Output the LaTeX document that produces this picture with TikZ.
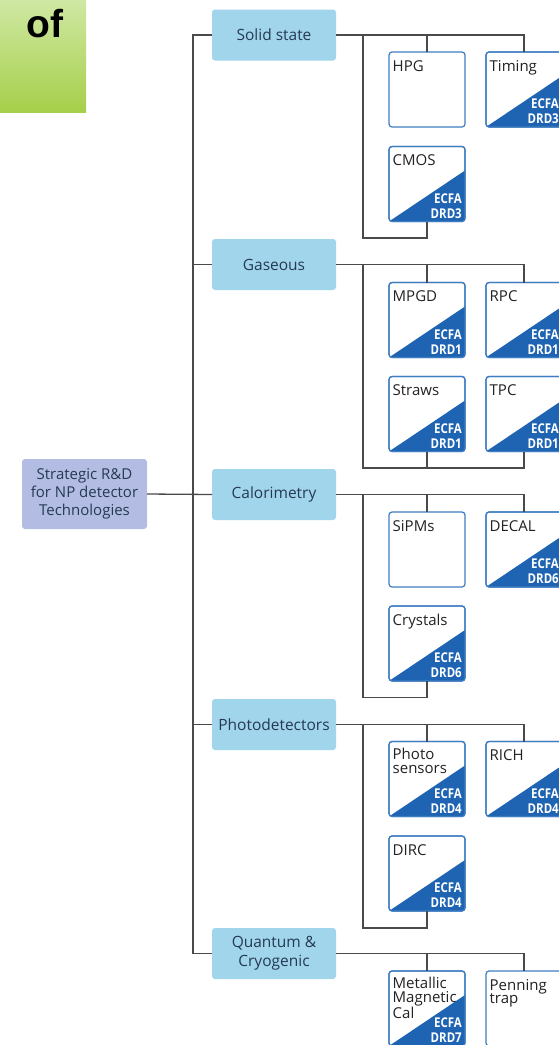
\documentclass[tikz,border=0pt]{standalone}
\usepackage{fontspec}
\setmainfont{Open Sans}
\newfontfamily\ofont{Liberation Sans}
\newfontfamily\ecfafont[FakeStretch=0.85]{Open Sans}
\usetikzlibrary{calc}
\definecolor{catfill}{HTML}{A0D5EB}
\definecolor{rootfill}{HTML}{B3BDE3}
\definecolor{cattext}{HTML}{253A52}
\definecolor{leafline}{HTML}{3F7DC2}
\definecolor{trifill}{HTML}{1E64B2}
\definecolor{conncol}{HTML}{4A4A4A}
\definecolor{gtop}{HTML}{CFE8A3}
\definecolor{gbot}{HTML}{A6CF4A}
\definecolor{leaftextcol}{HTML}{222222}
\tikzset{
  conn/.style={draw=conncol, line width=1.3pt},
  catbox/.style={rectangle, rounded corners=3pt, fill=catfill, minimum width=124pt, minimum height=51pt, inner sep=0pt, outer sep=0pt, text=cattext, font=\fontsize{15.5}{19}\selectfont, align=center},
  rootbox/.style={rectangle, rounded corners=3pt, fill=rootfill, minimum width=125pt, minimum height=70pt, inner sep=0pt, outer sep=0pt, text=cattext, font=\fontsize{15}{18}\selectfont, align=center},
  leafbox/.style={rectangle, rounded corners=3pt, fill=white, draw=leafline, line width=1.2pt, minimum width=76pt, minimum height=75pt, inner sep=0pt, outer sep=0pt},
  leaftext/.style={inner sep=0pt, text=leaftextcol, font=\fontsize{15}{13.5}\selectfont},
  ecfatext/.style={inner sep=0pt, text=white, font=\ecfafont\fontsize{13.5}{15}\selectfont\bfseries, align=right},
}
\newcommand\twolines[2]{\vtop{\hbox{#1}\hbox{#2}}}
\newcommand\threelines[3]{\vtop{\baselineskip=14pt\hbox{#1}\hbox{#2}\hbox{#3}}}
\newcommand\leafnode[6]{% name, style, x left, y top, label, baseline offset
  \node[#2, anchor=north west] (#1) at (#3,#4) {};
  \node[leaftext, anchor=base west] (#1-t) at ($(#1.north west)+(3.5,#6)$) {#5};
}
\newcommand\ecfamark[2]{% name, number
  \begin{scope}
    \clip[rounded corners=3pt] (#1.south west) rectangle (#1.north east);
    \fill[trifill] (#1.south west) -- (#1.south east) -- ($(#1.north east)!0.32!(#1.south east)$) -- cycle;
  \end{scope}
  \draw[leafline, line width=1.2pt, rounded corners=3pt] (#1.south west) rectangle (#1.north east);
  \node[ecfatext, anchor=base east] (#1-e) at ($(#1.south east)+(-3,-3.5)$) {ECFA\\DRD#2};
}
\begin{document}
\begin{tikzpicture}[x=1pt,y=-1pt]
\useasboundingbox (0,0) rectangle (559,1045);
\clip (0,0) rectangle (559,1045);
% green title fragment
\shade[top color=gtop, bottom color=gbot] (0,0) rectangle (86,112);
\node[inner sep=0pt, font=\ofont\bfseries\fontsize{39}{39}\selectfont] (of) at (45,24) {of};
% coordinates
\coordinate (mainx) at (193,0);
\coordinate (subx) at (363,0);
% category boxes
\node[catbox, anchor=north west] (ss) at (212,9.5) {Solid state};
\node[catbox, anchor=north west] (gas) at (212,239) {Gaseous};
\node[catbox, anchor=north west] (cal) at (212,469) {Calorimetry};
\node[catbox, anchor=north west] (pd) at (212,699) {Photodetectors};
\node[catbox, anchor=north west] (qc) at (212,928) {Quantum \&\\Cryogenic};
\node[rootbox, anchor=east] (root) at (147,494) {Strategic R\&D\\for NP detector\\Technologies};
% leaves
\leafnode{hpg}{leafbox}{389}{52}{HPG}{19}
\leafnode{tim}{leafbox}{486}{52}{Timing}{19}
\leafnode{cmos}{leafbox}{389}{146.5}{CMOS}{19}
\leafnode{mpgd}{leafbox}{389}{282.5}{MPGD}{19}
\leafnode{rpc}{leafbox}{486}{282.5}{RPC}{19}
\leafnode{straw}{leafbox}{389}{376.5}{Straws}{19}
\leafnode{tpc}{leafbox}{486}{376.5}{TPC}{19}
\leafnode{sipm}{leafbox}{389}{512}{SiPMs}{19}
\leafnode{decal}{leafbox}{486}{512}{DECAL}{19}
\leafnode{cry}{leafbox}{389}{606}{Crystals}{19}
\leafnode{phs}{leafbox}{389}{741.5}{\twolines{Photo}{sensors}}{18}
\leafnode{rich}{leafbox}{486}{741.5}{RICH}{19}
\leafnode{dirc}{leafbox}{389}{836}{DIRC}{19}
\leafnode{mmc}{leafbox}{389}{971}{\threelines{Metallic}{Magnetic}{Cal}}{17}
\leafnode{pen}{leafbox}{486}{971}{\twolines{Penning}{trap}}{19}
\ecfamark{tim}{3}
\ecfamark{cmos}{3}
\ecfamark{mpgd}{1}
\ecfamark{rpc}{1}
\ecfamark{straw}{1}
\ecfamark{tpc}{1}
\ecfamark{decal}{6}
\ecfamark{cry}{6}
\ecfamark{phs}{4}
\ecfamark{rich}{4}
\ecfamark{dirc}{4}
\ecfamark{mmc}{7}
% bottom coordinates of sub trees
\coordinate (ssb) at (363,238);
\coordinate (gasb) at (363,468);
\coordinate (calb) at (363,697.5);
\coordinate (pdb) at (363,928);
% main spine
\draw[conn] (ss.west) -- (ss.west -| mainx) -- (qc.west -| mainx) -- (qc.west);
\draw[conn] (gas.west) -- (gas.west -| mainx);
\draw[conn] (pd.west) -- (pd.west -| mainx);
\draw[conn] (root.east) -- (cal.west);
% solid state
\draw[conn] (ss.east) -| (tim.north);
\draw[conn] (hpg.north) -- (hpg.north |- ss.east);
\draw[conn] (ss.east -| subx) -- (ssb) -| (cmos.south);
% gaseous
\draw[conn] (gas.east) -| (rpc.north);
\draw[conn] (mpgd.north) -- (mpgd.north |- gas.east);
\draw[conn] (gas.east -| subx) -- (gasb) -| (tpc.south);
\draw[conn] (straw.south) -- (straw.south |- gasb);
% calorimetry
\draw[conn] (cal.east) -| (decal.north);
\draw[conn] (sipm.north) -- (sipm.north |- cal.east);
\draw[conn] (cal.east -| subx) -- (calb) -| (cry.south);
% photodetectors
\draw[conn] (pd.east) -| (rich.north);
\draw[conn] (phs.north) -- (phs.north |- pd.east);
\draw[conn] (pd.east -| subx) -- (pdb) -| (dirc.south);
% quantum
\draw[conn] (qc.east) -| (pen.north);
\draw[conn] (mmc.north) -- (mmc.north |- qc.east);
\end{tikzpicture}
\end{document}
